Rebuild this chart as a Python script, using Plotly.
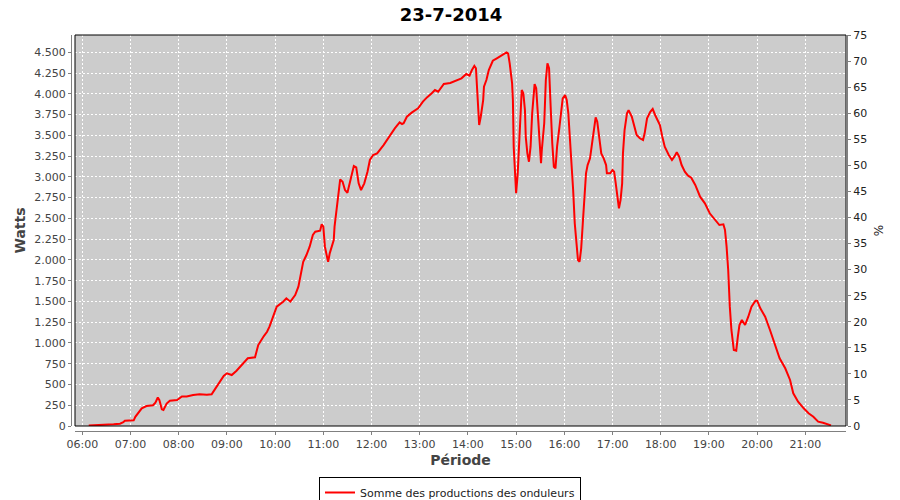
import plotly.graph_objects as go

title_text = "23-7-2014"
series_name = "Somme des productions des onduleurs"
x_title = "Période"
y_title = "Watts"
y2_title = "%"

times = [
    "06:08", "06:18", "06:30", "06:39", "06:47", "06:51", "06:53", "07:04", "07:06", "07:10",
    "07:14", "07:20", "07:28", "07:31", "07:34", "07:36", "07:39", "07:41", "07:45", "07:49",
    "07:58", "08:04", "08:10", "08:18", "08:26", "08:35", "08:41", "08:45", "08:52", "08:56",
    "09:00", "09:06", "09:12", "09:19", "09:26", "09:35", "09:39", "09:46", "09:50", "09:53",
    "10:02", "10:10", "10:14", "10:19", "10:25", "10:29", "10:33", "10:35", "10:39", "10:43",
    "10:47", "10:50", "10:56", "10:58", "11:00", "11:02", "11:05", "11:06", "11:08", "11:13",
    "11:14", "11:17", "11:19", "11:21", "11:24", "11:27", "11:30", "11:32", "11:35", "11:38",
    "11:41", "11:44", "11:47", "11:51", "11:55", "11:58", "12:02", "12:07", "12:15", "12:23",
    "12:29", "12:35", "12:38", "12:40", "12:44", "12:50", "12:58", "13:04", "13:09", "13:15",
    "13:19", "13:23", "13:26", "13:30", "13:38", "13:46", "13:52", "13:58", "14:02", "14:05",
    "14:08", "14:10", "14:12", "14:14", "14:16", "14:19", "14:20", "14:23", "14:26", "14:31",
    "14:36", "14:42", "14:48", "14:50", "14:52", "14:55", "14:56", "14:57", "14:59", "15:00",
    "15:02", "15:03", "15:05", "15:07", "15:09", "15:11", "15:12", "15:14", "15:16", "15:18",
    "15:20", "15:23", "15:25", "15:27", "15:29", "15:31", "15:32", "15:35", "15:37", "15:39",
    "15:41", "15:42", "15:43", "15:45", "15:47", "15:49", "15:51", "15:54", "15:56", "15:58",
    "16:01", "16:03", "16:05", "16:07", "16:09", "16:11", "16:13", "16:15", "16:17", "16:19",
    "16:21", "16:23", "16:25", "16:27", "16:29", "16:32", "16:34", "16:37", "16:39", "16:41",
    "16:43", "16:46", "16:49", "16:52", "16:53", "16:57", "17:00", "17:02", "17:04", "17:06",
    "17:08", "17:10", "17:12", "17:13", "17:15", "17:18", "17:20", "17:24", "17:27", "17:30",
    "17:34", "17:38", "17:40", "17:43", "17:47", "17:50", "17:53", "17:56", "17:59", "18:02",
    "18:05", "18:10", "18:14", "18:17", "18:20", "18:23", "18:26", "18:30", "18:34", "18:38",
    "18:43", "18:49", "18:55", "19:01", "19:08", "19:13", "19:18", "19:20", "19:22", "19:24",
    "19:26", "19:28", "19:31", "19:34", "19:36", "19:38", "19:41", "19:45", "19:49", "19:53",
    "19:58", "20:00", "20:04", "20:10", "20:16", "20:22", "20:28", "20:35", "20:41", "20:45",
    "20:51", "20:58", "21:04", "21:10", "21:16", "21:22", "21:29", "21:32",
]

watts = [
    5, 8, 16, 20, 28, 45, 64, 68, 110, 160,
    213, 240, 250, 281, 343, 310, 201, 193, 270, 305,
    313, 355, 355, 373, 381, 375, 381, 441, 554, 602,
    634, 614, 666, 746, 815, 827, 975, 1083, 1135, 1196,
    1437, 1497, 1537, 1497, 1577, 1677, 1878, 1978, 2059, 2159,
    2300, 2339, 2352, 2428, 2400, 2159, 2019, 1978, 2079, 2239,
    2400, 2640, 2841, 2970, 2941, 2841, 2809, 2881, 3001, 3130,
    3114, 2922, 2841, 2922, 3062, 3203, 3263, 3283, 3383, 3504,
    3584, 3656, 3636, 3645, 3724, 3773, 3825, 3905, 3957, 4006,
    4045, 4025, 4066, 4118, 4130, 4160, 4186, 4238, 4218, 4286,
    4336, 4307, 4006, 3624, 3724, 3925, 4085, 4166, 4286, 4398,
    4427, 4467, 4499, 4487, 4367, 4126, 3925, 3363, 2922, 2802,
    3042, 3283, 3724, 4045, 4006, 3804, 3483, 3283, 3182, 3363,
    3765, 4118, 4066, 3724, 3404, 3163, 3323, 3645, 4166, 4367,
    4307, 4126, 3845, 3404, 3122, 3102, 3363, 3604, 3804, 3945,
    3985, 3925, 3765, 3483, 3082, 2841, 2440, 2200, 1999, 1978,
    2139, 2440, 2761, 3042, 3142, 3223, 3363, 3564, 3717, 3664,
    3483, 3283, 3223, 3142, 3042, 3042, 3082, 3062, 2922, 2761,
    2621, 2721, 2922, 3283, 3564, 3765, 3804, 3724, 3604, 3504,
    3464, 3443, 3524, 3705, 3784, 3817, 3745, 3684, 3624, 3483,
    3363, 3263, 3203, 3243, 3295, 3243, 3142, 3062, 3014, 2990,
    2902, 2761, 2681, 2561, 2480, 2420, 2428, 2360, 2159, 1878,
    1437, 1156, 915, 907, 1075, 1216, 1276, 1216, 1316, 1437,
    1509, 1509, 1417, 1316, 1156, 975, 815, 695, 554, 394,
    293, 213, 153, 112, 52, 40, 20, 8,
]

day = "2014-07-23"
x_start = "2014-07-23 05:50:55"
x_end = "2014-07-23 21:50:38"
watts_max = 4708
pct_max = 75

font_family = "DejaVu Sans"

fig = go.Figure()
fig.add_trace(go.Scatter(
    x=[f"{day} {t}" for t in times],
    y=watts,
    mode="lines",
    line=dict(color="#ff0000", width=2),
    name=series_name,
    showlegend=True,
))
# invisible trace to activate the right axis
fig.add_trace(go.Scatter(x=[x_start], y=[0], yaxis="y2", mode="markers",
                         marker=dict(opacity=0), showlegend=False, hoverinfo="skip"))

# the page adds an 8px body margin, so the figure is sized and placed to compensate
OFF = 8
W, H = 900 - OFF, 500 - OFF
ml, mt = 71 - OFF, 35 - OFF
mr = W - (847 - OFF)
mb = H - (431 - OFF)
pw = W - ml - mr
ph = H - mt - mb

grid_dash = "2px,2px"

fig.update_layout(
    width=W, height=H,
    margin=dict(l=ml, r=mr, t=mt, b=mb, pad=0, autoexpand=False),
    paper_bgcolor="white",
    plot_bgcolor="#cccccc",
    separators=",.",
    font=dict(family=font_family, size=11, color="#444444"),
    title=dict(text=f"<b>{title_text}</b>", x=(451 - OFF) / W, xref="container", xanchor="center",
               y=1, yref="container", yanchor="top", pad=dict(t=0, b=0),
               font=dict(family=font_family, size=18, color="#000000")),
    xaxis=dict(
        type="date",
        domain=[4 / pw, 1 - 1 / pw],
        anchor="free", position=0,
        range=[x_start, x_end],
        tickformat="%H:%M",
        dtick=3600000, tick0=f"{day} 06:00",
        tickangle=0,
        showgrid=True, gridcolor="white", gridwidth=1, griddash=grid_dash,
        showline=True, linecolor="#808080", linewidth=1,
        ticks="outside", ticklen=3, tickcolor="#808080",
        tickfont=dict(size=11, color="#444444"),
        title=dict(text=f"<b>{x_title}</b>", font=dict(size=14, color="#444444"), standoff=4),
        zeroline=False,
    ),
    yaxis=dict(
        domain=[5 / ph, 1],
        anchor="free", position=0,
        range=[0, watts_max],
        dtick=250, tick0=0,
        tickformat=",d",
        showgrid=True, gridcolor="white", gridwidth=1, griddash=grid_dash,
        showline=True, linecolor="#808080", linewidth=1,
        ticks="outside", ticklen=3, tickcolor="#808080",
        tickfont=dict(size=11, color="#444444"),
        title=dict(text=f"<b>{y_title}</b>", font=dict(size=14, color="#444444"), standoff=4),
        zeroline=False,
    ),
    yaxis2=dict(
        overlaying="y",
        side="right",
        anchor="free", position=1,
        range=[0, pct_max],
        dtick=5, tick0=0,
        showgrid=False,
        showline=True, linecolor="#808080", linewidth=1,
        ticks="outside", ticklen=3, tickcolor="#808080",
        tickfont=dict(size=11, color="#222222"),
        title=dict(text=y2_title, font=dict(size=12, color="#222222"), standoff=8),
        zeroline=False,
    ),
    legend=dict(
        orientation="h",
        x=(450 - OFF - ml) / pw, xanchor="center",
        y=-(477 - 431) / ph, yanchor="top",
        bgcolor="white", bordercolor="#000000", borderwidth=1,
        font=dict(size=11, color="#222222"),
        itemwidth=30,
        tracegroupgap=0,
    ),
    showlegend=True,
)

fig.add_shape(type="rect", xref="x domain", yref="y domain", x0=0, x1=1, y0=0, y1=1,
              line=dict(color="#000000", width=1), fillcolor="rgba(0,0,0,0)", layer="above")

fig.write_html("out.html")
